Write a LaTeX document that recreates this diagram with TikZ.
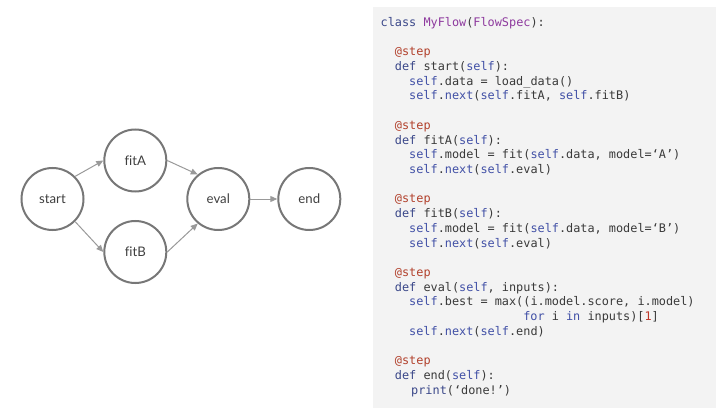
\documentclass[tikz,border=0pt]{standalone}
\usepackage{fontspec}
\setmainfont{Lato}[Ligatures=NoCommon]
\setmonofont{DejaVu Sans Mono}[Ligatures=NoCommon]
\usetikzlibrary{arrows.meta}
\definecolor{circ}{HTML}{777777}
\definecolor{arr}{HTML}{999999}
\definecolor{lbl}{HTML}{3F3F3F}
\definecolor{panel}{HTML}{F3F3F3}
\definecolor{codetxt}{HTML}{3A3A3A}
\definecolor{kwc}{HTML}{3A4789}
\definecolor{selfc}{HTML}{4150A6}
\definecolor{clsc}{HTML}{8E3A9E}
\definecolor{decc}{HTML}{B2412C}
\definecolor{numc}{HTML}{C0392B}
\newcommand{\ckw}[1]{\textcolor{kwc}{#1}}
\newcommand{\cslf}[1]{\textcolor{selfc}{#1}}
\newcommand{\ccl}[1]{\textcolor{clsc}{#1}}
\newcommand{\cdc}[1]{\textcolor{decc}{#1}}
\newcommand{\cnm}[1]{\textcolor{numc}{#1}}
\tikzset{
  stepnode/.style={circle, draw=circ, line width=2pt, minimum size=62pt, inner sep=0pt,
    font=\fontsize{13.2pt}{15pt}\selectfont, text=lbl},
  flowarrow/.style={draw=arr, line width=1pt, -{Triangle[length=7pt,width=6pt]}},
  codeline/.style={anchor=base west, inner sep=0pt, text=codetxt,
    font=\ttfamily\fontsize{11.85pt}{14.7pt}\selectfont}
}
\newcommand{\cx}[1]{380.5+7.13*#1}
\newcommand{\cy}[1]{26.5+14.7*#1}
\begin{document}
\begin{tikzpicture}[x=1pt,y=-1pt]
\useasboundingbox (0,0) rectangle (720,417);
% graph
\node[stepnode] (start) at (52.5,199) {start};
\node[stepnode] (fitA) at (135.3,160.5) {fitA};
\node[stepnode] (fitB) at (135.3,252) {fitB};
\node[stepnode] (eval) at (218.3,199) {eval};
\node[stepnode] (end) at (309.3,199) {end};
\draw[flowarrow] (start.45) -- (fitA.west);
\draw[flowarrow] (start.-45) -- (fitB.west);
\draw[flowarrow] (fitA.east) -- (eval.130);
\draw[flowarrow] (fitB.east) -- (eval.-130);
\draw[flowarrow] (eval.east) -- (end.west);
% code panel
\fill[panel] (373,7) rectangle (716,408);
\node[codeline] (l0) at ({\cx{0}},{\cy{0}}) {\ckw{class} \ccl{MyFlow}(\ccl{FlowSpec}):};
\node[codeline] (l2) at ({\cx{2}},{\cy{2}}) {\cdc{@step}};
\node[codeline] (l3) at ({\cx{2}},{\cy{3}}) {\ckw{def} start(\cslf{self}):};
\node[codeline] (l4) at ({\cx{4}},{\cy{4}}) {\cslf{self}.data = load\_data()};
\node[codeline] (l5) at ({\cx{4}},{\cy{5}}) {\cslf{self}.\cslf{next}(\cslf{self}.fitA, \cslf{self}.fitB)};
\node[codeline] (l7) at ({\cx{2}},{\cy{7}}) {\cdc{@step}};
\node[codeline] (l8) at ({\cx{2}},{\cy{8}}) {\ckw{def} fitA(\cslf{self}):};
\node[codeline] (l9) at ({\cx{4}},{\cy{9}}) {\cslf{self}.model = fit(\cslf{self}.data, model=‘A’)};
\node[codeline] (l10) at ({\cx{4}},{\cy{10}}) {\cslf{self}.\cslf{next}(\cslf{self}.eval)};
\node[codeline] (l12) at ({\cx{2}},{\cy{12}}) {\cdc{@step}};
\node[codeline] (l13) at ({\cx{2}},{\cy{13}}) {\ckw{def} fitB(\cslf{self}):};
\node[codeline] (l14) at ({\cx{4}},{\cy{14}}) {\cslf{self}.model = fit(\cslf{self}.data, model=‘B’)};
\node[codeline] (l15) at ({\cx{4}},{\cy{15}}) {\cslf{self}.\cslf{next}(\cslf{self}.eval)};
\node[codeline] (l17) at ({\cx{2}},{\cy{17}}) {\cdc{@step}};
\node[codeline] (l18) at ({\cx{2}},{\cy{18}}) {\ckw{def} eval(\cslf{self}, inputs):};
\node[codeline] (l19) at ({\cx{4}},{\cy{19}}) {\cslf{self}.best = max((i.model.score, i.model)};
\node[codeline] (l20) at ({\cx{20}},{\cy{20}}) {\cslf{for} i \cslf{in} inputs)[\cnm{1}]};
\node[codeline] (l21) at ({\cx{4}},{\cy{21}}) {\cslf{self}.\cslf{next}(\cslf{self}.end)};
\node[codeline] (l23) at ({\cx{2}},{\cy{23}}) {\cdc{@step}};
\node[codeline] (l24) at ({\cx{2}},{\cy{24}}) {\ckw{def} end(\cslf{self}):};
\node[codeline] (l25) at ({\cx{4}+2},{\cy{25}}) {\ckw{print}(‘done!’)};
\end{tikzpicture}
\end{document}
